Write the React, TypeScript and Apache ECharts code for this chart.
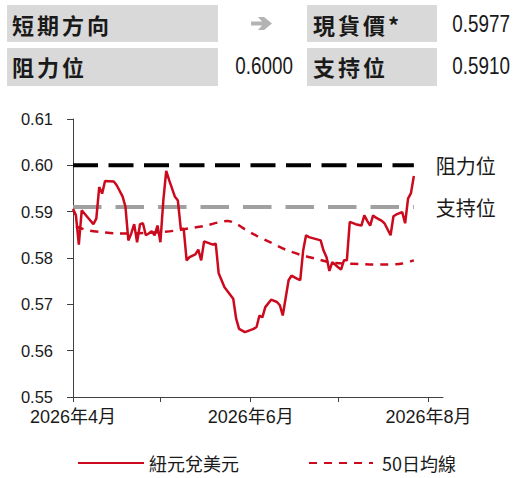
import React, { useEffect, useRef } from "react";
import * as echarts from "echarts";

// ---------- data ----------
const fxDates = [
  "2026-04-01", "2026-04-02", "2026-04-03", "2026-04-04", "2026-04-06", "2026-04-08", "2026-04-09", "2026-04-10",
  "2026-04-11", "2026-04-12", "2026-04-15", "2026-04-16", "2026-04-18", "2026-04-19", "2026-04-20", "2026-04-21",
  "2026-04-22", "2026-04-23", "2026-04-24", "2026-04-25", "2026-04-26", "2026-04-27", "2026-04-28", "2026-04-29",
  "2026-04-30", "2026-05-01", "2026-05-02", "2026-05-03", "2026-05-04", "2026-05-06", "2026-05-07", "2026-05-08",
  "2026-05-09", "2026-05-10", "2026-05-11", "2026-05-13", "2026-05-14", "2026-05-15", "2026-05-16", "2026-05-19",
  "2026-05-20", "2026-05-21", "2026-05-23", "2026-05-26", "2026-05-27", "2026-05-28", "2026-05-30", "2026-06-02",
  "2026-06-03", "2026-06-04", "2026-06-05", "2026-06-06", "2026-06-08", "2026-06-10", "2026-06-11", "2026-06-12",
  "2026-06-14", "2026-06-15", "2026-06-17", "2026-06-18", "2026-06-19", "2026-06-20", "2026-06-21", "2026-06-25",
  "2026-06-26", "2026-06-27", "2026-06-28", "2026-06-29", "2026-07-01", "2026-07-02", "2026-07-03", "2026-07-04",
  "2026-07-05", "2026-07-07", "2026-07-09", "2026-07-10", "2026-07-11", "2026-07-12", "2026-07-13", "2026-07-14",
  "2026-07-16", "2026-07-17", "2026-07-19", "2026-07-20", "2026-07-21", "2026-07-23", "2026-07-24", "2026-07-25",
  "2026-07-26", "2026-07-27",
];
const fxValues = [
  0.5906, 0.5892, 0.5829, 0.5903, 0.5888, 0.5873, 0.5885, 0.5953,
  0.5939, 0.5966, 0.5965, 0.5957, 0.5933, 0.5911, 0.5838, 0.5853,
  0.5873, 0.5834, 0.5873, 0.5875, 0.5849, 0.5853, 0.5858, 0.5849,
  0.5870, 0.5834, 0.5924, 0.5988, 0.5968, 0.5932, 0.5924, 0.5863,
  0.5863, 0.5795, 0.5802, 0.5808, 0.5818, 0.5795, 0.5836, 0.5829,
  0.5831, 0.5767, 0.5737, 0.5712, 0.5669, 0.5647, 0.5640, 0.5647,
  0.5651, 0.5676, 0.5672, 0.5694, 0.5710, 0.5705, 0.5698, 0.5676,
  0.5752, 0.5762, 0.5755, 0.5752, 0.5816, 0.5849, 0.5845, 0.5838,
  0.5816, 0.5802, 0.5772, 0.5791, 0.5780, 0.5775, 0.5795, 0.5795,
  0.5878, 0.5873, 0.5870, 0.5892, 0.5880, 0.5870, 0.5892, 0.5887,
  0.5880, 0.5874, 0.5849, 0.5890, 0.5894, 0.5899, 0.5875, 0.5928,
  0.5940, 0.5977,
];
const maDates = [
  "2026-04-02", "2026-04-06", "2026-04-11", "2026-04-16", "2026-04-21", "2026-04-26", "2026-05-01", "2026-05-06",
  "2026-05-11", "2026-05-16", "2026-05-21", "2026-05-24", "2026-05-27", "2026-05-30", "2026-06-03", "2026-06-08",
  "2026-06-13", "2026-06-18", "2026-06-23", "2026-06-28", "2026-07-03", "2026-07-08", "2026-07-13", "2026-07-18",
  "2026-07-23", "2026-07-27",
];
const maValues = [
  0.5868, 0.5860, 0.5856, 0.5853, 0.5853, 0.5854, 0.5856, 0.5859,
  0.5864, 0.5869, 0.5877, 0.5880, 0.5874, 0.5862, 0.5848, 0.5833,
  0.5818, 0.5807, 0.5799, 0.5791, 0.5788, 0.5787, 0.5786, 0.5786,
  0.5788, 0.5795,
];
const seriesNames = ["紐元兌美元", "50日均線"];
const levelNames = ["阻力位", "支持位"];
const resistance = 0.6;
const support = 0.591;
const spotPrice = 0.5977;
const headerLabels = ["短期方向", "現貨價*", "阻力位", "支持位"];
const yMin = 0.55;
const yMax = 0.61;
const yStep = 0.01;
const xMin = "2026-04-01";
const xMax = "2026-08-06";

// ---------- styles ----------
const NUM_FONT = "'Liberation Sans', Arial, 'Noto Sans CJK TC', sans-serif";
const CJK_FONT = "'Noto Sans CJK TC', 'Noto Sans CJK SC', sans-serif";
const RED = "#cc0a1e";
const TEXT = "#1a1a1a";
const BOX = "#d9d9d9";

function spacedText(str: string, x: number, y: number, pitch: number) {
  return Array.from(str).map((ch, i) => ({
    type: "text",
    x: x + i * pitch,
    y,
    style: {
      text: ch,
      fontSize: 22,
      fontWeight: "bold",
      fontFamily: CJK_FONT,
      fill: TEXT,
      verticalAlign: "middle",
      align: "left",
    },
  }));
}

export default function App() {
  const ref = useRef<HTMLDivElement>(null);

  useEffect(() => {
    if (!ref.current) return;
    const chart = echarts.init(ref.current, null, { renderer: "svg" });
    const fxData = fxDates.map((d, i) => [d, fxValues[i]]);
    const maData = maDates.map((d, i) => [d, maValues[i]]);
    const first = fxDates[0];
    const last = fxDates[fxDates.length - 1];

    const numText = (text: string, x: number, y: number) => ({
      type: "text",
      x,
      y,
      scaleX: 0.82,
      style: { text, fontSize: 23, fontFamily: NUM_FONT, fill: TEXT, align: "right", verticalAlign: "middle" },
    });

    const graphic: any[] = [
      { type: "rect", shape: { x: 7, y: 5, width: 211, height: 37 }, style: { fill: BOX } },
      { type: "rect", shape: { x: 307, y: 5, width: 130, height: 37 }, style: { fill: BOX } },
      { type: "rect", shape: { x: 7, y: 48, width: 211, height: 38 }, style: { fill: BOX } },
      { type: "rect", shape: { x: 307, y: 48, width: 130, height: 38 }, style: { fill: BOX } },
      ...spacedText(headerLabels[0], 12, 24, 25),
      ...spacedText(headerLabels[1], 313, 24, 25),
      ...spacedText(headerLabels[2], 12, 66, 25),
      ...spacedText(headerLabels[3], 313, 66, 25),
      {
        type: "polygon",
        shape: {
          points: [
            [251, 21.5], [262, 21.5], [258, 17], [264, 17], [272, 23.5],
            [264, 30], [258, 30], [262, 25.5], [251, 25.5],
          ],
        },
        style: { fill: "#b3b3b3" },
      },
      numText(spotPrice.toFixed(4), 510, 24),
      numText(resistance.toFixed(4), 293, 66),
      numText(support.toFixed(4), 510, 66),
    ];

    const legendCommon = {
      top: 449,
      itemHeight: 14,
      itemStyle: { opacity: 0 },
      textStyle: { fontSize: 18, fontFamily: CJK_FONT, color: TEXT },
    };

    const option: any = {
      animation: false,
      backgroundColor: "#ffffff",
      graphic,
      grid: { left: 73, right: 71, top: 119, bottom: 81, containLabel: false },
      legend: [
        { ...legendCommon, data: [seriesNames[0]], left: 72, itemWidth: 66 },
        {
          ...legendCommon,
          data: [seriesNames[1]],
          left: 303,
          itemWidth: 64,
          textStyle: { ...legendCommon.textStyle, padding: [0, 0, 0, 4] },
        },
      ],
      xAxis: {
        type: "time",
        min: xMin,
        max: xMax,
        minInterval: 28 * 86400000,
        maxInterval: 31 * 86400000,
        axisLine: { lineStyle: { color: "#404040", width: 1 } },
        axisTick: { show: true, length: 5, lineStyle: { color: "#404040" } },
        splitLine: { show: false },
        axisLabel: {
          fontSize: 18,
          fontFamily: NUM_FONT,
          color: TEXT,
          margin: 11,
          hideOverlap: false,
          formatter: (val: number) => {
            const d = new Date(val);
            const m = d.getMonth() + 1;
            return m % 2 === 0 ? `${d.getFullYear()}年${m}月` : "";
          },
        },
      },
      yAxis: {
        type: "value",
        min: yMin,
        max: yMax,
        interval: yStep,
        axisLine: { show: true, lineStyle: { color: "#404040", width: 1 } },
        axisTick: { show: true, length: 6, lineStyle: { color: "#404040" } },
        splitLine: { show: false },
        axisLabel: {
          fontSize: 16.5,
          fontFamily: NUM_FONT,
          color: TEXT,
          margin: 20,
          formatter: (v: number) => v.toFixed(2),
        },
      },
      series: [
        {
          name: levelNames[0],
          type: "line",
          data: [[first, resistance], [last, resistance]],
          symbol: "none",
          silent: true,
          lineStyle: { color: "#000000", width: 4, type: [25, 10.5] },
          endLabel: {
            show: true,
            formatter: levelNames[0],
            distance: 22,
            fontSize: 20,
            fontFamily: CJK_FONT,
            color: TEXT,
          },
          z: 2,
        },
        {
          name: levelNames[1],
          type: "line",
          data: [[first, support], [last, support]],
          symbol: "none",
          silent: true,
          lineStyle: { color: "#a0a0a0", width: 4, type: [28.5, 14] },
          endLabel: {
            show: true,
            formatter: levelNames[1],
            distance: 22,
            fontSize: 20,
            fontFamily: CJK_FONT,
            color: TEXT,
          },
          z: 2,
        },
        {
          name: seriesNames[1],
          type: "line",
          data: maData,
          symbol: "none",
          smooth: 0.3,
          lineStyle: { color: RED, width: 2.5, type: [8, 7] },
          itemStyle: { color: RED },
          z: 3,
        },
        {
          name: seriesNames[0],
          type: "line",
          data: fxData,
          symbol: "none",
          lineStyle: { color: RED, width: 2.5 },
          itemStyle: { color: RED },
          z: 4,
        },
      ],
    };
    chart.setOption(option);
    return () => chart.dispose();
  }, []);

  return <div ref={ref} style={{ width: 514, height: 478, position: "absolute", left: 0, top: 0 }} />;
}
